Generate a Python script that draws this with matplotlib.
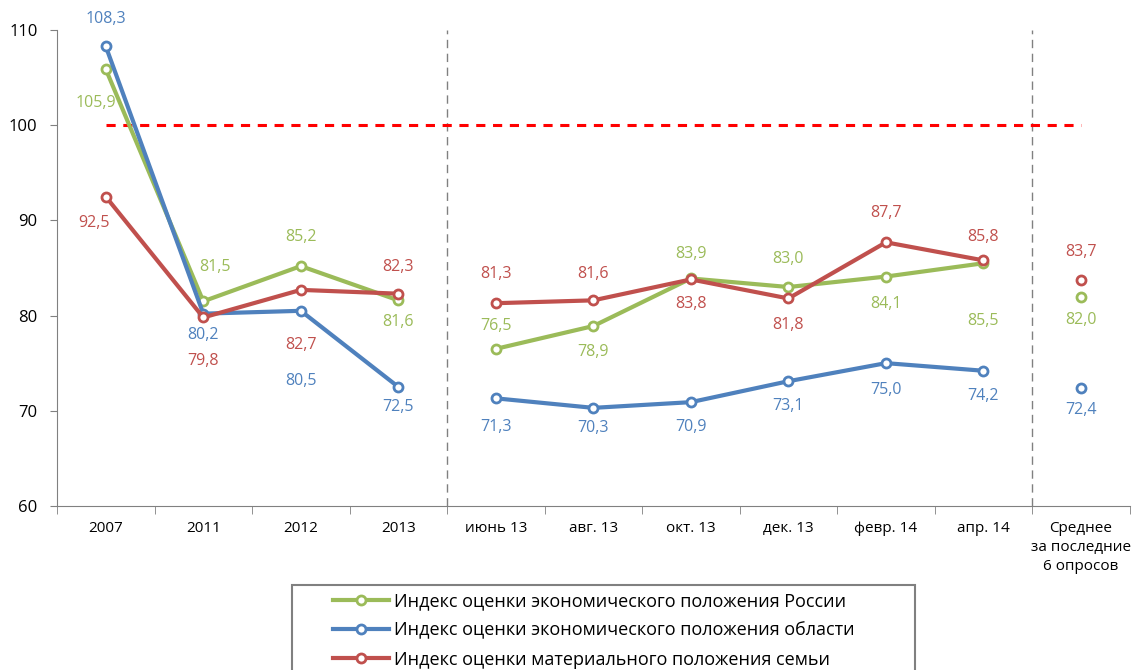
import matplotlib.pyplot as plt
import matplotlib.patches as mpatches
import numpy as np

plt.rcParams['font.family'] = ['Open Sans', 'DejaVu Sans']

categories = ['2007', '2011', '2012', '2013', 'июнь 13', 'авг. 13', 'окт. 13',
              'дек. 13', 'февр. 14', 'апр. 14', 'Среднее\nза последние\n6 опросов']

russia = [105.9, 81.5, 85.2, 81.6, 76.5, 78.9, 83.9, 83.0, 84.1, 85.5, 82.0]
region = [108.3, 80.2, 80.5, 72.5, 71.3, 70.3, 70.9, 73.1, 75.0, 74.2, 72.4]
family = [92.5, 79.8, 82.7, 82.3, 81.3, 81.6, 83.8, 81.8, 87.7, 85.8, 83.7]

names = ['Индекс оценки экономического положения России',
         'Индекс оценки экономического положения области',
         'Индекс оценки материального положения семьи']

# label offsets in pixels (dx, dy; dy positive = up)
off_russia = [(-10, -34), (12, 34), (0, 29), (0, -22), (0, 23), (0, -26), (0, 24), (0, 28), (0, -27), (0, -58), (0, -23)]
off_region = [(0, 27), (0, -21), (0, -70), (0, -20), (0, -29), (0, -20), (0, -25), (0, -25), (0, -27), (0, -25), (0, -22)]
off_family = [(-12, -26), (0, -44), (0, -55), (0, 27), (0, 29), (0, 26), (0, -25), (0, -27), (0, 29), (0, 23), (0, 28)]

colors = ['#9BBB59', '#4F81BD', '#C0504D']

fig = plt.figure(figsize=(11.4, 6.7), dpi=100)
ax = fig.add_axes([0.05, 0.245, 0.941, 0.71])

x = np.arange(len(categories))
segments = [slice(0, 4), slice(4, 10), slice(10, 11)]

handles = []
for vals, offs, col, name in zip([russia, region, family],
                                 [off_russia, off_region, off_family], colors, names):
    vals = np.array(vals)
    for seg in segments:
        h, = ax.plot(x[seg], vals[seg], '-o', color=col, lw=3, ms=6.5,
                     mfc='white', mec=col, mew=2, zorder=3, label=name)
    handles.append(h)
    for xi, v, (dx, dy) in zip(x, vals, offs):
        ax.annotate(f'{v:.1f}'.replace('.', ','), (xi, v), xytext=(dx, dy),
                    textcoords='offset pixels', ha='center', va='center',
                    color=col, fontsize=11.5)

ax.plot([0, 10], [100, 100], color='#FF0000', lw=2.2, ls=(0, (3, 2.5)), zorder=2)
for bx in [3.5, 9.5]:
    ax.axvline(bx, color='#808080', lw=1, ls=(0, (6, 4)), zorder=1)

ax.set_xlim(-0.5, 10.5)
ax.set_ylim(60, 110)
ax.set_yticks([60, 70, 80, 90, 100, 110])
ax.tick_params(axis='y', labelsize=12, length=5, pad=9, color='#808080')
ax.set_xticks(x)
ax.set_xticklabels(categories, fontsize=11, linespacing=1.35)
ax.tick_params(axis='x', length=0, pad=11)
ax.set_xticks(np.arange(-0.5, 11, 1), minor=True)
ax.tick_params(axis='x', which='minor', length=6, color='#808080')
for s in ['top', 'right']:
    ax.spines[s].set_visible(False)
ax.spines['left'].set_color('#808080')
ax.spines['bottom'].set_color('#808080')

leg = fig.legend(handles=handles, loc='upper left', bbox_to_anchor=(0.292, 0.116),
                 fontsize=13, handlelength=3.1, frameon=False,
                 borderaxespad=0, borderpad=0, labelspacing=0.62, handletextpad=0.3)
fig.patches.append(mpatches.Rectangle((0.256, -0.05), 0.547, 0.177,
                                      transform=fig.transFigure, fill=False,
                                      edgecolor='#808080', lw=1.5))

fig.savefig('out.png', dpi=100)
